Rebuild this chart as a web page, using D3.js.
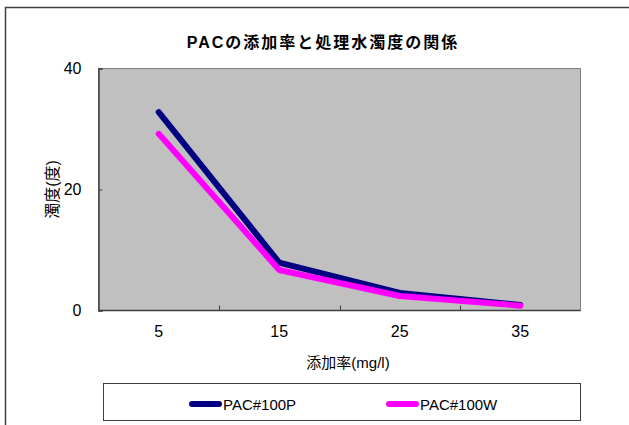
<!DOCTYPE html>
<html>
<head>
<meta charset="utf-8">
<script src="https://cdn.jsdelivr.net/npm/d3@7"></script>
<style>
  html, body { margin: 0; padding: 0; background: #fff; }
  svg { display: block; }
  text { font-family: "Liberation Sans", Arial, "Noto Sans CJK JP", sans-serif; fill: #000; }
</style>
</head>
<body>
<svg id="chart" width="629" height="425"></svg>
<script>
// Dosage categories (mg/l) and turbidity for each PAC grade
const categories = ["5", "15", "25", "35"];
const seriesNames = ["PAC#100P", "PAC#100W"];
const pac100P = [32.8, 7.9, 2.9, 0.9];
const pac100W = [29.2, 6.7, 2.4, 0.8];
const yTicks = [0, 20, 40];

const title = "PACの添加率と処理水濁度の関係";
const xTitle = "添加率(mg/l)";
const yTitle = "濁度(度)";

const colors = ["#000080", "#FF00FF"];
const series = [pac100P, pac100W];

const svg = d3.select("#chart");
const plot = { left: 98.5, top: 68.5, right: 580.5, bottom: 310.5 };
const jpFont = "'Noto Sans CJK JP', sans-serif";

// outer chart frame (runs off the right and bottom edges)
svg.append("rect")
  .attr("x", 5.5).attr("y", 7.5)
  .attr("width", 700).attr("height", 500)
  .attr("fill", "#fff").attr("stroke", "#404040").attr("stroke-width", 1.5);

svg.append("text")
  .attr("x", 323).attr("y", 42)
  .attr("dominant-baseline", "central")
  .attr("text-anchor", "middle")
  .attr("font-size", 16).attr("font-weight", "bold")
  .attr("letter-spacing", 2)
  .attr("font-family", jpFont)
  .attr("fill", "#000")
  .text(title);

const x = d3.scaleBand().domain(categories).range([plot.left, plot.right]);
const y = d3.scaleLinear().domain([0, 40]).range([plot.bottom, plot.top]);

// plot area
svg.append("rect")
  .attr("x", plot.left).attr("y", plot.top)
  .attr("width", plot.right - plot.left).attr("height", plot.bottom - plot.top)
  .attr("fill", "#C0C0C0").attr("stroke", "#808080").attr("stroke-width", 1);

// y axis, ticks pointing into the plot area
const yAxis = svg.append("g")
  .attr("transform", `translate(${plot.left},0)`)
  .call(d3.axisLeft(y).tickValues(yTicks).tickSize(-4).tickPadding(17));
yAxis.select(".domain").attr("stroke", "#404040").attr("stroke-width", 1.5);
yAxis.selectAll(".tick line").attr("stroke", "#404040");
yAxis.selectAll(".tick text").attr("font-size", 16)
  .attr("font-family", "'Liberation Sans', Arial, sans-serif").attr("fill", "#000");

// x axis: ticks sit between categories
const xAxisG = svg.append("g").attr("transform", `translate(0,${plot.bottom})`);
xAxisG.append("line")
  .attr("x1", plot.left).attr("x2", plot.right)
  .attr("stroke", "#404040").attr("stroke-width", 1.5);
xAxisG.selectAll("line.tick")
  .data(categories.slice(1))
  .join("line")
  .attr("class", "tick")
  .attr("x1", d => Math.round(x(d)) + 0.5).attr("x2", d => Math.round(x(d)) + 0.5)
  .attr("y1", -5).attr("y2", 0)
  .attr("stroke", "#404040");
xAxisG.selectAll("text")
  .data(categories)
  .join("text")
  .attr("x", d => x(d) + x.bandwidth() / 2)
  .attr("y", 26.5)
  .attr("text-anchor", "middle")
  .attr("font-size", 16)
  .attr("fill", "#000")
  .text(d => d);

// axis titles
svg.append("text")
  .attr("x", 348).attr("y", 362)
  .attr("dominant-baseline", "central")
  .attr("text-anchor", "middle")
  .attr("font-size", 15)
  .attr("font-family", jpFont)
  .attr("fill", "#000")
  .text(xTitle);

svg.append("text")
  .attr("transform", `translate(52,${(plot.top + plot.bottom) / 2}) rotate(-90)`)
  .attr("dominant-baseline", "central")
  .attr("text-anchor", "middle")
  .attr("font-size", 16)
  .attr("font-family", jpFont)
  .attr("fill", "#000")
  .text(yTitle);

// data lines
const line = d3.line()
  .x((d, i) => x(categories[i]) + x.bandwidth() / 2)
  .y(d => y(d));

series.forEach((vals, k) => {
  svg.append("path")
    .datum(vals)
    .attr("d", line)
    .attr("fill", "none")
    .attr("stroke", colors[k])
    .attr("stroke-width", 6)
    .attr("stroke-linecap", "round")
    .attr("stroke-linejoin", "round");
});

// legend
const legend = svg.append("g");
legend.append("rect")
  .attr("x", 103.5).attr("y", 383.5)
  .attr("width", 477).attr("height", 37)
  .attr("fill", "#fff").attr("stroke", "#404040").attr("stroke-width", 1);

const legendX = [189, 386];
seriesNames.forEach((name, k) => {
  legend.append("line")
    .attr("x1", legendX[k] + 3).attr("x2", legendX[k] + 30)
    .attr("y1", 404).attr("y2", 404)
    .attr("stroke", colors[k]).attr("stroke-width", 6)
    .attr("stroke-linecap", "round");
  legend.append("text")
    .attr("x", legendX[k] + 34).attr("y", 409.5)
    .attr("font-size", 15)
    .attr("fill", "#000")
    .text(name);
});
</script>
</body>
</html>
